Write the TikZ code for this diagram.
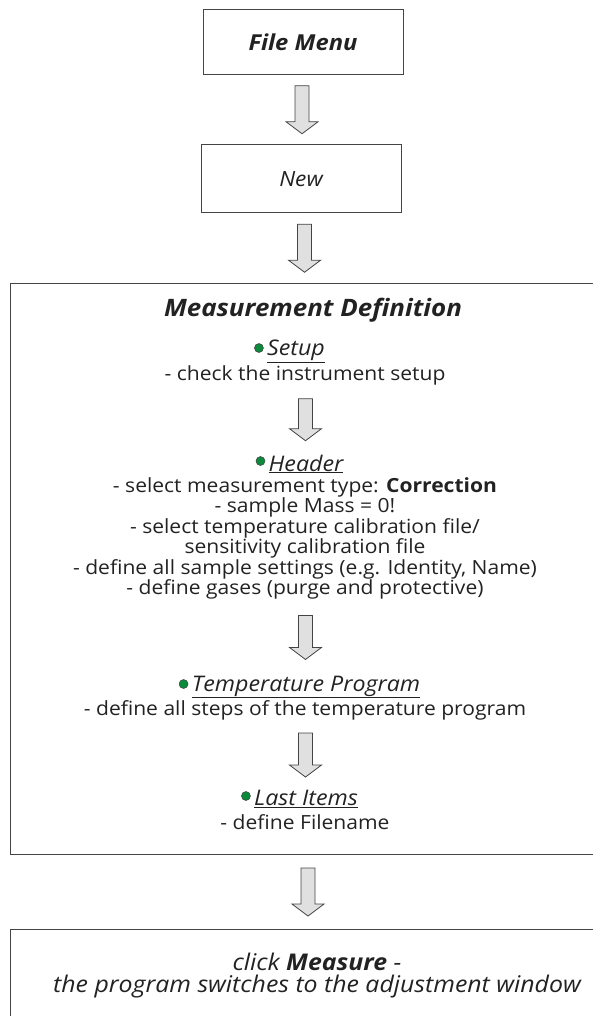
\documentclass[tikz,border=0pt]{standalone}
\usepackage{fontspec}
\setmainfont{Open Sans}[FakeStretch=1.08]
\usepackage{tikz}
\usetikzlibrary{calc}

\definecolor{txt}{HTML}{222222}
\definecolor{frame}{HTML}{444444}
\definecolor{arrowfill}{HTML}{E0E0E0}
\definecolor{dotgreen}{HTML}{0B8A3C}

\tikzset{
  box/.style={draw=frame,line width=1pt,text=txt,inner sep=0pt},
  item/.style={text=txt,align=center,inner sep=0pt,font=\fontsize{19.5}{20.5}\selectfont},
  head/.style={item,font=\fontsize{21.5}{24}\selectfont\itshape},
  garrow/.style={draw=frame,fill=arrowfill,line width=0.8pt,line join=miter},
  dot/.style={draw=black!75,fill=dotgreen,line width=0.5pt},
}
% block arrow centred between two nodes, #3 = total length
\newcommand{\garrow}[3]{%
  \draw[garrow] ($(#1)!0.5!(#2)$) ++(-7,#3/2) -- ++(14,0) -- ++(0,-#3+12) -- ++(9,0)
    -- ++(-16,-12) -- ++(-16,12) -- ++(9,0) -- cycle;}

\begin{document}
\begin{tikzpicture}[x=1pt,y=1pt]
\useasboundingbox (0,0) rectangle (592,-1016);

\node[box,minimum width=200,minimum height=65] (filemenu) at (303,-42)
  {\fontsize{22}{24}\selectfont\bfseries\itshape File Menu};
\node[box,minimum width=200,minimum height=68] (new) at (301,-179)
  {\fontsize{21}{24}\selectfont\itshape New};
\node[box,minimum width=595,minimum height=571,anchor=north west] (mdbox) at (10,-283) {};
\node[box,minimum width=595,minimum height=110,anchor=north west] (measure) at (10,-929) {};

\node[item,font=\fontsize{24}{24}\selectfont\bfseries\itshape] (mdtitle) at (313,-310) {Measurement Definition};

\node[head] (setup) at (296,-351) {\underline{Setup}};
\node[item] (setupdesc) at (305,-375) {- check the instrument setup};

\node[head] (header) at (306,-464) {\underline{Header}};
\node[item,anchor=north] (headerdesc) at (305,-477) {- select measurement type: \textbf{Correction}\\
  - sample Mass = 0!\\
  - select temperature calibration file/\\
  sensitivity calibration file\\
  - define all sample settings (e.g. Identity, Name)\\
  - define gases (purge and protective)};

\node[head] (temp) at (306,-687) {\underline{Temperature Program}};
\node[item] (tempdesc) at (305,-710) {- define all steps of the temperature program};

\node[head] (last) at (306,-799) {\underline{Last Items}};
\node[item] (lastdesc) at (305,-822) {- define Filename};

\node[item,font=\fontsize{23}{22}\selectfont\itshape] (measuretxt) at (317,-976)
  {click \textbf{Measure} -\\the program switches to the adjustment window};

\foreach \h in {setup,header,temp,last}
  \filldraw[dot] ($(\h.west)+(-8,3)$) circle (4.5pt);

\garrow{filemenu.south}{new.north}{48}
\garrow{new.south}{mdbox.north}{48}
\garrow{setupdesc.south}{header.north}{42}
\garrow{headerdesc.south}{temp.north}{44}
\garrow{tempdesc.south}{last.north}{44}
\garrow{mdbox.south}{measure.north}{48}
\end{tikzpicture}
\end{document}
